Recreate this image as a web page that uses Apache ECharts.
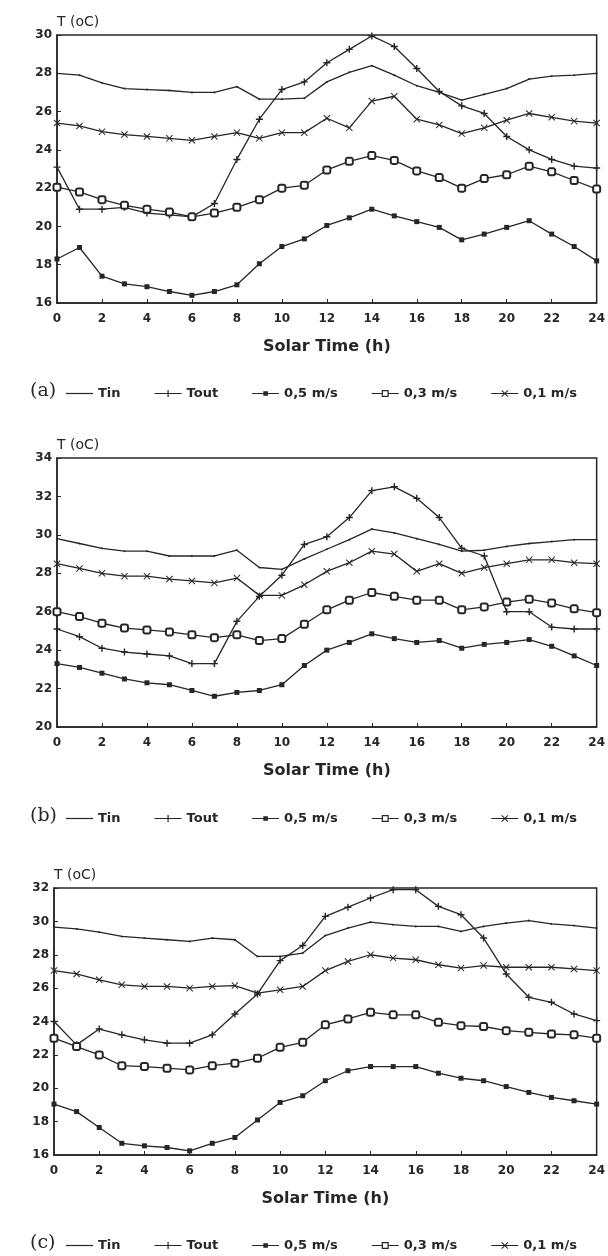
<!DOCTYPE html>
<html>
<head>
<meta charset="utf-8">
<script src="https://cdn.jsdelivr.net/npm/echarts@6/dist/echarts.min.js"></script>
<style>
  html, body { margin: 0; padding: 0; background: #fff; }
  #chart { width: 608px; height: 1256px; }
</style>
</head>
<body>
<div id="chart"></div>
<script>
// hours of solar time
const hours = [0, 1, 2, 3, 4, 5, 6, 7, 8, 9, 10, 11, 12, 13, 14, 15, 16, 17, 18, 19, 20, 21, 22, 23, 24];
const seriesNames = ["Tin", "Tout", "0,5 m/s", "0,3 m/s", "0,1 m/s"];
const panelTags = ["(a)", "(b)", "(c)"];
const yRanges = [[16, 30], [20, 34], [16, 32]];

// panel (a)
const tinA = [28.0, 27.9, 27.5, 27.2, 27.15, 27.1, 27.0, 27.0, 27.3, 26.65, 26.65, 26.7, 27.55, 28.05, 28.4, 27.9, 27.35, 27.0, 26.6, 26.9, 27.2, 27.7, 27.85, 27.9, 28.0];
const toutA = [23.1, 20.9, 20.9, 21.0, 20.7, 20.6, 20.5, 21.2, 23.5, 25.6, 27.15, 27.55, 28.55, 29.25, 29.95, 29.4, 28.25, 27.05, 26.3, 25.9, 24.7, 24.0, 23.5, 23.15, 23.05];
const v05A = [18.3, 18.9, 17.4, 17.0, 16.85, 16.6, 16.4, 16.6, 16.95, 18.05, 18.95, 19.35, 20.05, 20.45, 20.9, 20.55, 20.25, 19.95, 19.3, 19.6, 19.95, 20.3, 19.6, 18.95, 18.2];
const v03A = [22.05, 21.8, 21.4, 21.1, 20.9, 20.75, 20.5, 20.7, 21.0, 21.4, 22.0, 22.15, 22.95, 23.4, 23.7, 23.45, 22.9, 22.55, 22.0, 22.5, 22.7, 23.15, 22.85, 22.4, 21.95];
const v01A = [25.4, 25.25, 24.95, 24.8, 24.7, 24.6, 24.5, 24.7, 24.9, 24.6, 24.9, 24.9, 25.65, 25.15, 26.55, 26.8, 25.6, 25.3, 24.85, 25.15, 25.55, 25.9, 25.7, 25.5, 25.4];

// panel (b)
const tinB = [29.8, 29.55, 29.3, 29.15, 29.15, 28.9, 28.9, 28.9, 29.2, 28.3, 28.2, 28.75, 29.25, 29.75, 30.3, 30.1, 29.8, 29.5, 29.15, 29.2, 29.4, 29.55, 29.65, 29.75, 29.75];
const toutB = [25.1, 24.7, 24.1, 23.9, 23.8, 23.7, 23.3, 23.3, 25.5, 26.8, 27.9, 29.5, 29.9, 30.9, 32.3, 32.5, 31.9, 30.9, 29.3, 28.9, 26.0, 26.0, 25.2, 25.1, 25.1];
const v05B = [23.3, 23.1, 22.8, 22.5, 22.3, 22.2, 21.9, 21.6, 21.8, 21.9, 22.2, 23.2, 24.0, 24.4, 24.85, 24.6, 24.4, 24.5, 24.1, 24.3, 24.4, 24.55, 24.2, 23.7, 23.2];
const v03B = [26.0, 25.75, 25.4, 25.15, 25.05, 24.95, 24.8, 24.65, 24.8, 24.5, 24.6, 25.35, 26.1, 26.6, 27.0, 26.8, 26.6, 26.6, 26.1, 26.25, 26.5, 26.65, 26.45, 26.15, 25.95];
const v01B = [28.5, 28.25, 28.0, 27.85, 27.85, 27.7, 27.6, 27.5, 27.75, 26.85, 26.85, 27.4, 28.1, 28.55, 29.15, 29.0, 28.1, 28.5, 28.0, 28.3, 28.5, 28.7, 28.7, 28.55, 28.5];

// panel (c)
const tinC = [29.65, 29.55, 29.35, 29.1, 29.0, 28.9, 28.8, 29.0, 28.9, 27.9, 27.9, 28.1, 29.15, 29.6, 29.95, 29.8, 29.7, 29.7, 29.4, 29.7, 29.9, 30.05, 29.85, 29.75, 29.6];
const toutC = [24.0, 22.6, 23.55, 23.2, 22.9, 22.7, 22.7, 23.2, 24.45, 25.65, 27.65, 28.55, 30.3, 30.85, 31.4, 31.9, 31.9, 30.9, 30.4, 29.0, 26.85, 25.45, 25.15, 24.45, 24.05];
const v05C = [19.05, 18.6, 17.65, 16.7, 16.55, 16.45, 16.25, 16.7, 17.05, 18.1, 19.15, 19.55, 20.45, 21.05, 21.3, 21.3, 21.3, 20.9, 20.6, 20.45, 20.1, 19.75, 19.45, 19.25, 19.05];
const v03C = [23.0, 22.5, 22.0, 21.35, 21.3, 21.2, 21.1, 21.35, 21.5, 21.8, 22.45, 22.75, 23.8, 24.15, 24.55, 24.4, 24.4, 23.95, 23.75, 23.7, 23.45, 23.35, 23.25, 23.2, 23.0];
const v01C = [27.05, 26.85, 26.5, 26.2, 26.1, 26.1, 26.0, 26.1, 26.15, 25.7, 25.9, 26.1, 27.05, 27.6, 28.0, 27.8, 27.7, 27.4, 27.2, 27.35, 27.25, 27.25, 27.25, 27.15, 27.05];

const panels = [
  [tinA, toutA, v05A, v03A, v01A],
  [tinB, toutB, v05B, v03B, v01B],
  [tinC, toutC, v05C, v03C, v01C]
];

const ink = "#262626";
const plusPath = "path://M4,0H6V4H10V6H6V10H4V6H0V4H4Z";
const crossPath = "path://M0,1L1,0L5,4L9,0L10,1L6,5L10,9L9,10L5,6L1,10L0,9L4,5Z";
// one marker per series: Tin, Tout, 0,5 / 0,3 / 0,1 m/s
const markers = [
  { symbol: "circle", symbolSize: 2 },
  { symbol: plusPath, symbolSize: 7 },
  { symbol: "rect", symbolSize: 5 },
  { symbol: "emptyRoundRect", symbolSize: 7 },
  { symbol: crossPath, symbolSize: 7 }
];

// legend icons drawn in a 27x10 box (the M0,0M27,10 pins the box)
const box = "M0,0M27,10";
const bar = "M0,4.4H27V5.6H0Z";
const legendIcons = [
  "path://" + box + bar,
  "path://" + box + bar + "M12.9,1.5H14.1V8.5H12.9Z",
  "path://" + box + bar + "M11.2,2.7H15.8V7.3H11.2Z",
  "path://" + box + "M0,4.4H10V5.6H0Z M17,4.4H27V5.6H17Z M10,1.5H17V8.5H10Z M11.2,2.7V7.3H15.8V2.7Z",
  "path://" + box + bar + "M10,2.2L10.7,1.5L13.5,4.3L16.3,1.5L17,2.2L14.2,5L17,7.8L16.3,8.5L13.5,5.7L10.7,8.5L10,7.8L12.8,5Z"
];

const grids = [
  { left: 57, right: 8, top: 35, height: 268 },
  { left: 57, right: 6, top: 458, height: 269 },
  { left: 54, right: 10, top: 888, height: 267 }
];
const legendTops = [387, 812, 1239];

const tickFont = { fontFamily: "DejaVu Sans", fontWeight: "bold", fontSize: 12, color: ink };

let xAxes = [], yAxes = [], legends = [], graphics = [], series = [];
grids.forEach(function(g, i) {
  g.show = true;
  g.borderColor = ink;
  g.borderWidth = 1.5;
  xAxes.push({
    type: "value", gridIndex: i, min: 0, max: 24, interval: 2,
    name: "Solar Time (h)", nameLocation: "middle", nameGap: 36,
    nameTextStyle: { fontFamily: "DejaVu Sans", fontWeight: "bold", fontSize: 16, color: ink },
    axisLine: { show: true, lineStyle: { color: ink, width: 1.5 } },
    axisTick: { show: true, inside: true, length: 4, lineStyle: { color: ink } },
    axisLabel: Object.assign({ margin: 10 }, tickFont),
    splitLine: { show: false }
  });
  yAxes.push({
    type: "value", gridIndex: i, min: yRanges[i][0], max: yRanges[i][1], interval: 2,
    name: "T (oC)", nameLocation: "end", nameGap: 6,
    nameTextStyle: { fontFamily: "DejaVu Sans", fontSize: 14, color: ink, align: "left" },
    axisLine: { show: true, lineStyle: { color: ink, width: 1.5 } },
    axisTick: { show: true, inside: true, length: 4, lineStyle: { color: ink } },
    axisLabel: Object.assign({ margin: 5 }, tickFont),
    splitLine: { show: false }
  });
  legends.push({
    top: legendTops[i], left: 66, padding: 0, itemGap: 34,
    itemWidth: 27, itemHeight: 10,
    data: seriesNames.map(function(n, k) { return { name: n, icon: legendIcons[k] }; }),
    selectedMode: false,
    itemStyle: { color: ink, borderWidth: 0 },
    textStyle: { fontFamily: "DejaVu Sans", fontWeight: "bold", fontSize: 13, color: ink }
  });
  graphics.push({
    type: "text", left: 30, top: legendTops[i] - 5,
    style: { text: panelTags[i], font: "19px 'DejaVu Serif'", fill: ink }
  });
  panels[i].forEach(function(vals, k) {
    series.push({
      name: seriesNames[k],
      type: "line",
      xAxisIndex: i,
      yAxisIndex: i,
      data: hours.map(function(h, j) { return [h, vals[j]]; }),
      symbol: markers[k].symbol,
      symbolSize: markers[k].symbolSize,
      showAllSymbol: true,
      lineStyle: { color: ink, width: 1.3 },
      itemStyle: { color: ink, borderColor: ink, borderWidth: k === 3 ? 1.2 : 0 },
      z: 2
    });
  });
});

let myChart = echarts.init(document.getElementById("chart"), null, { renderer: "canvas" });
myChart.setOption({
  animation: false,
  backgroundColor: "#fff",
  grid: grids,
  xAxis: xAxes,
  yAxis: yAxes,
  legend: legends,
  graphic: graphics,
  series: series
});
</script>
</body>
</html>
